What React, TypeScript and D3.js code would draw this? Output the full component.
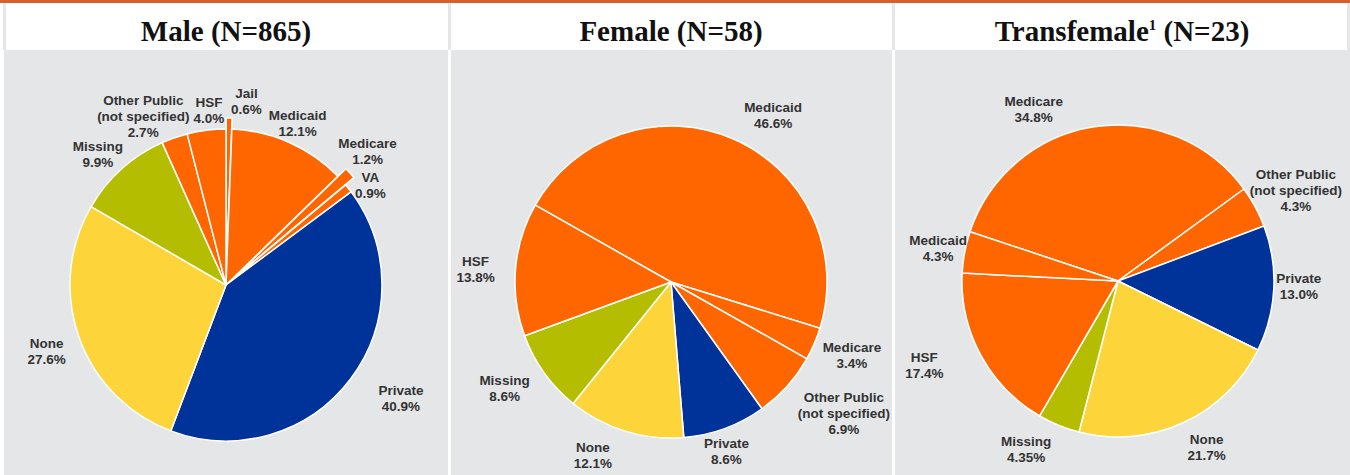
import { useMemo } from 'react';
import * as d3 from 'd3';

// ---- data ----
const maleCategories = ['Jail', 'Medicaid', 'Medicare', 'VA', 'Private', 'None', 'Missing', 'Other Public\n(not specified)', 'HSF'];
const maleValues = [0.6, 12.1, 1.2, 0.9, 40.9, 27.6, 9.9, 2.7, 4.0];
const maleExploded = ['Jail', 'Medicare'];

const femaleCategories = ['Medicaid', 'Medicare', 'Other Public\n(not specified)', 'Private', 'None', 'Missing', 'HSF'];
const femaleValues = [46.6, 3.4, 6.9, 8.6, 12.1, 8.6, 13.8];

const transCategories = ['Medicare', 'Other Public\n(not specified)', 'Private', 'None', 'Missing', 'HSF', 'Medicaid'];
const transValues = [34.8, 4.3, 13.0, 21.7, 4.35, 17.4, 4.3];

// label nudges away from the default outside position
const maleNudge = [[17, 0], [-3, 6], [5, -11], [0, 14], [28, 2], [-6, 5], [-5, 6], [-22, 5], [6, 8]];
const femaleNudge = [[29, 2], [12, 0], [36, 8], [-8, -4], [-24, -3], [-17, -1], [-12, 2]];
const transNudge = [[-56, 10], [16, -3], [-3, -4], [12, -1], [-22, -2], [-32, -4], [1, 1]];

const colorOf = (cat: string) => {
  if (cat === 'Private') return '#003399';
  if (cat === 'None') return '#FDD43A';
  if (cat === 'Missing') return '#B5BD00';
  return '#FF6600';
};

const fmt = (v: number) => {
  const s = v.toFixed(2);
  return (s.endsWith('0') ? s.slice(0, -1) : s) + '%';
};

const W = 1350;
const H = 475;
const R = 156;
const LABEL_R = 184;

type PieProps = {
  cx: number;
  cy: number;
  categories: string[];
  values: number[];
  startDeg: number;
  nudge: number[][];
  exploded?: string[];
};

const Pie = ({ cx, cy, categories, values, startDeg, nudge, exploded = [] }: PieProps) => {
  const arcs = useMemo(() => {
    const s = (startDeg * Math.PI) / 180;
    return d3.pie<number>().sort(null).startAngle(s).endAngle(s + 2 * Math.PI)(values);
  }, [values, startDeg]);
  const arcGen = d3.arc<d3.PieArcDatum<number>>().innerRadius(0).outerRadius(R);

  return (
    <g transform={`translate(${cx}, ${cy})`}>
      {arcs.map((a, i) => {
        const mid = (a.startAngle + a.endAngle) / 2;
        const off = exploded.includes(categories[i]) ? 11 : 0;
        return (
          <path
            key={i}
            d={arcGen(a) || ''}
            fill={colorOf(categories[i])}
            stroke="#fff"
            strokeWidth={1.5}
            strokeLinejoin="round"
            transform={`translate(${off * Math.sin(mid)}, ${-off * Math.cos(mid)})`}
          />
        );
      })}
      {arcs.map((a, i) => {
        const mid = (a.startAngle + a.endAngle) / 2;
        const lx = LABEL_R * Math.sin(mid) + nudge[i][0];
        const ly = -LABEL_R * Math.cos(mid) + nudge[i][1];
        const lines = [...categories[i].split('\n'), fmt(values[i])];
        const top = ly - ((lines.length - 1) * 16) / 2;
        return (
          <text
            key={'l' + i}
            textAnchor="middle"
            fontFamily="'Liberation Sans', Arial, sans-serif"
            fontWeight="bold"
            fontSize={13.5}
            fill="#333333"
          >
            {lines.map((t, j) => (
              <tspan key={j} x={lx} y={top + j * 16 + 4.8}>{t}</tspan>
            ))}
          </text>
        );
      })}
    </g>
  );
};

const panels = [
  { x: 4, w: 444 },
  { x: 451, w: 441 },
  { x: 895, w: 455 },
];

const App = () => {
  const titleFont = "'Liberation Serif', 'Times New Roman', serif";
  return (
    <div style={{ position: 'absolute', left: 0, top: 0 }}>
      <svg width={W} height={H} style={{ display: 'block' }}>
        <rect x={0} y={0} width={W} height={H} fill="#fff" />
        {panels.map((p, i) => (
          <rect key={i} x={p.x} y={50} width={p.w} height={H - 50} fill="#E5E6E8" />
        ))}
        {/* header separators */}
        <rect x={3} y={2} width={3} height={48} fill="#E6E6E6" />
        <rect x={448} y={2} width={3} height={48} fill="#E6E6E6" />
        <rect x={892} y={2} width={3} height={48} fill="#E6E6E6" />
        <rect x={1347} y={2} width={3} height={48} fill="#E6E6E6" />
        <rect x={0} y={0} width={W} height={3} fill="#D5602B" />

        <text x={226} y={41} textAnchor="middle" fontFamily={titleFont} fontWeight="bold" fontSize={29} fill="#111">
          Male (N=865)
        </text>
        <text x={671} y={41} textAnchor="middle" fontFamily={titleFont} fontWeight="bold" fontSize={29} fill="#111">
          Female (N=58)
        </text>
        <text x={1122} y={41} textAnchor="middle" fontFamily={titleFont} fontWeight="bold" fontSize={29} fill="#111">
          Transfemale
          <tspan fontSize={15} dy={-11}>1</tspan>
          <tspan dy={11}> (N=23)</tspan>
        </text>

        <Pie cx={226} cy={285} categories={maleCategories} values={maleValues} startDeg={0} nudge={maleNudge} exploded={maleExploded} />
        <Pie cx={671} cy={282} categories={femaleCategories} values={femaleValues} startDeg={-60.5} nudge={femaleNudge} />
        <Pie cx={1118} cy={281} categories={transCategories} values={transValues} startDeg={-71.6} nudge={transNudge} />
      </svg>
    </div>
  );
};

export default App;
